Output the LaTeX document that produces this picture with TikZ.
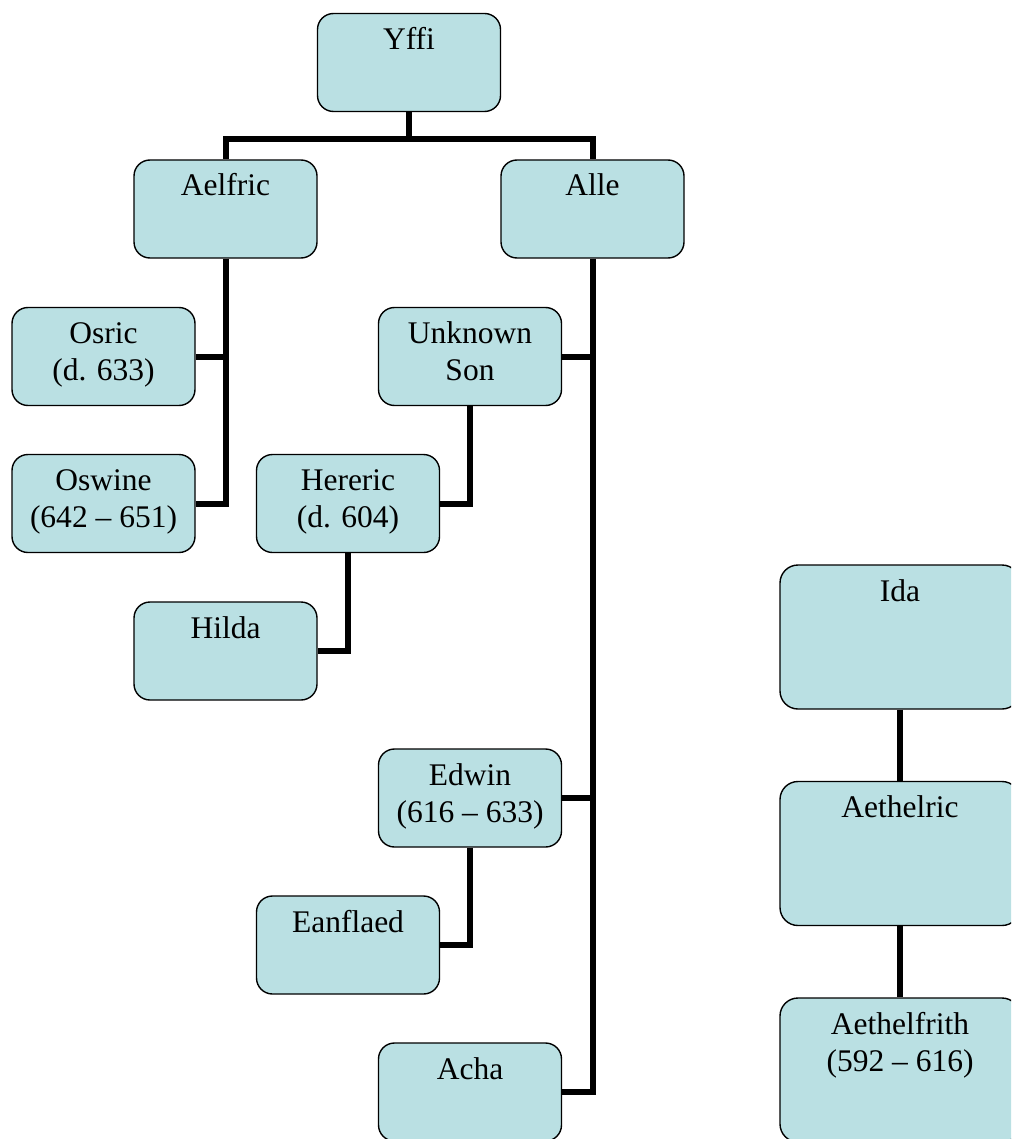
\documentclass[tikz,border=0pt]{standalone}
\usepackage{fontspec}
\setmainfont{Liberation Serif}
\usetikzlibrary{positioning, calc}
\definecolor{boxfill}{RGB}{186,224,227}

\begin{document}
\begin{tikzpicture}[
    x=0.5pt, y=-0.5pt,
    box/.style={draw,line width=0.7pt,rounded corners=8pt,fill=boxfill,
                align=center,inner xsep=2pt,inner ysep=0pt,
                minimum width=91.5pt,text height=18pt,text depth=31pt,
                font=\fontsize{15.75}{18.5}\selectfont},
    twoline/.style={box,text height=36.5pt,text depth=12.5pt},
    bigbox/.style={box,rounded corners=9pt,minimum width=120pt,text depth=54pt},
    bigtwo/.style={bigbox,text height=36.5pt,text depth=35.5pt},
    link/.style={line width=3pt}
]
  \useasboundingbox (0,0) rectangle (1011,1139);
  \clip (0,0) rectangle (1011,1139);

  % Yffi's line
  \node[box] (yffi) at (409,62.5) {Yffi};
  \node[box] (aelfric) at (225.5,209) {Aelfric};
  \node[box] (alle) at (592.5,209) {Alle};

  \node[twoline] (osric) at (103.5,356.5) {Osric\\(d. 633)};
  \node[twoline] (oswine) at (103.5,503.5) {Oswine\\(642 -- 651)};

  \node[twoline] (unknown) at (470,356.5) {Unknown\\Son};
  \node[twoline] (hereric) at (348,503.5) {Hereric\\(d. 604)};
  \node[box] (hilda) at (225.5,651) {Hilda};
  \node[twoline] (edwin) at (470,798) {Edwin\\(616 -- 633)};
  \node[box] (eanflaed) at (348,945) {Eanflaed};
  \node[box] (acha) at (470,1092) {Acha};

  % Ida's line
  \node[bigbox] (ida) at (900,637) {Ida};
  \node[bigbox] (aethelric) at (900,853.5) {Aethelric};
  \node[bigtwo] (aethelfrith) at (900,1070) {Aethelfrith\\(592 -- 616)};

  % Connectors
  \coordinate (fork) at ($(yffi.south)+(0,27)$);
  \draw[link] (yffi.south) -- (fork) -| (aelfric.north);
  \draw[link] (fork) -| (alle.north);

  \draw[link] (aelfric.south) |- (oswine.east);
  \draw[link] (osric.east) -- (osric.east -| aelfric.south);

  \draw[link] (alle.south) |- (acha.east);
  \draw[link] (unknown.east) -- (unknown.east -| alle.south);
  \draw[link] (edwin.east) -- (edwin.east -| alle.south);

  \draw[link] (unknown.south) |- (hereric.east);
  \draw[link] (hereric.south) |- (hilda.east);
  \draw[link] (edwin.south) |- (eanflaed.east);

  \draw[link] (ida) -- (aethelric);
  \draw[link] (aethelric) -- (aethelfrith);
\end{tikzpicture}
\end{document}
